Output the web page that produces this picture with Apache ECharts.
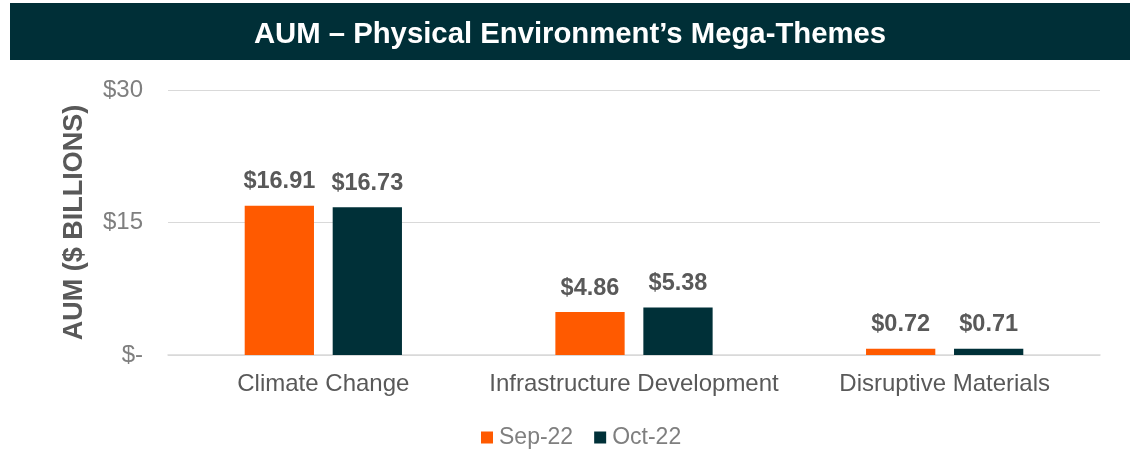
<!DOCTYPE html>
<html><head><meta charset="utf-8">
<script src="https://cdn.jsdelivr.net/npm/echarts@6/dist/echarts.min.js"></script>
<style>html,body{margin:0;padding:0;background:#fff;}#c{width:1140px;height:449px;}</style>
</head><body><div id="c"></div>
<script>
const titleText = "AUM – Physical Environment’s Mega-Themes";
const categories = ["Climate Change", "Infrastructure Development", "Disruptive Materials"];
const sep22 = [16.91, 4.86, 0.72];
const oct22 = [16.73, 5.38, 0.71];
const seriesNames = ["Sep-22", "Oct-22"];
const yAxisName = "AUM ($ BILLIONS)";

const chart = echarts.init(document.getElementById('c'), null, {renderer: 'canvas'});
const font = "Liberation Sans, Arial, sans-serif";
const labelCfg = {
  show: true, position: 'top', distance: 12,
  formatter: p => '$' + p.value.toFixed(2),
  fontFamily: font, fontSize: 23.5, fontWeight: 'bold', color: '#595959'
};
chart.setOption({
  animation: false,
  graphic: [{
    type: 'rect', shape: {x: 10, y: 3, width: 1120, height: 57},
    style: {fill: '#002F37'}
  }],
  title: {
    text: titleText, left: 'center', top: 15,
    textStyle: {fontFamily: font, fontSize: 29.3, fontWeight: 'bold', color: '#ffffff'}
  },
  legend: {
    data: seriesNames, top: 421, left: 476, itemWidth: 12, itemHeight: 12, itemGap: 21,
    icon: 'rect',
    textStyle: {fontFamily: font, fontSize: 23, color: '#7f7f7f', padding: [0, 0, 0, 1]}
  },
  grid: {left: 168, right: 40, top: 90, bottom: 94},
  xAxis: {
    type: 'category', data: categories,
    axisLine: {show: true, lineStyle: {color: '#d9d9d9', width: 1.5}},
    axisTick: {show: false},
    axisLabel: {fontFamily: font, fontSize: 24, color: '#595959', margin: 17, interval: 0, hideOverlap: false}
  },
  yAxis: {
    type: 'value', min: 0, max: 30, interval: 15,
    name: yAxisName, nameLocation: 'middle', nameGap: 80, nameRotate: 90,
    nameTextStyle: {fontFamily: font, fontSize: 27, fontWeight: 'bold', color: '#595959'},
    axisLine: {show: false}, axisTick: {show: false},
    splitLine: {lineStyle: {color: '#d9d9d9', width: 1}},
    axisLabel: {fontFamily: font, fontSize: 24, color: '#7f7f7f', margin: 25,
      formatter: v => v === 0 ? '$-' : '$' + v}
  },
  series: [
    {name: seriesNames[0], type: 'bar', data: sep22, barWidth: '22.3%', barGap: '27%',
     itemStyle: {color: '#FF5A00'}, label: labelCfg},
    {name: seriesNames[1], type: 'bar', data: oct22, barWidth: '22.3%',
     itemStyle: {color: '#003038'}, label: labelCfg}
  ]
});
</script></body></html>
